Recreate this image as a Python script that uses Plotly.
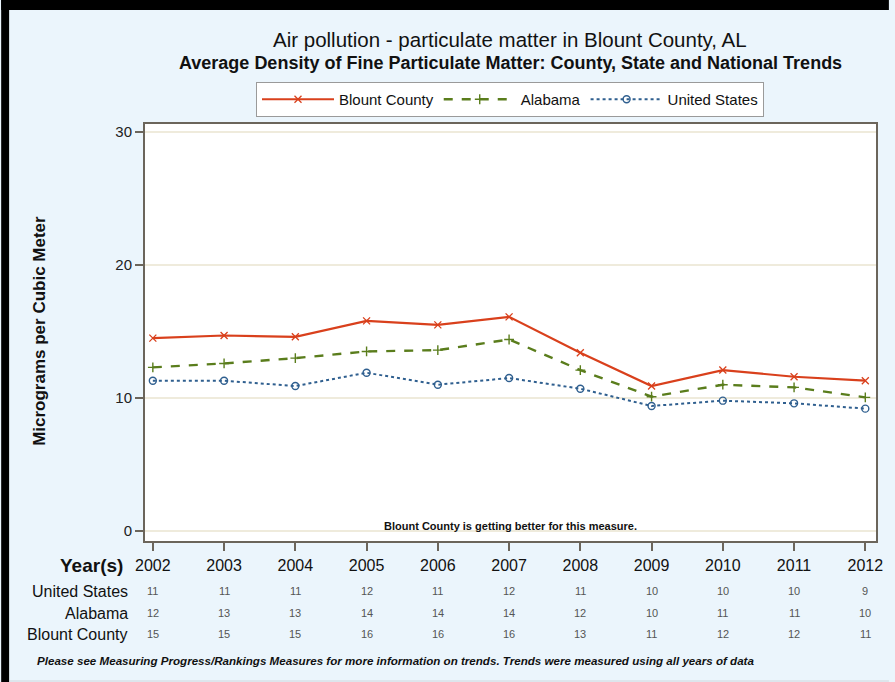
import plotly.graph_objects as go

years = [2002, 2003, 2004, 2005, 2006, 2007, 2008, 2009, 2010, 2011, 2012]
blount = [14.5, 14.7, 14.6, 15.8, 15.5, 16.1, 13.4, 10.9, 12.1, 11.6, 11.3]
alabama = [12.3, 12.6, 13.0, 13.5, 13.6, 14.4, 12.1, 10.1, 11.0, 10.8, 10.05]
united_states = [11.3, 11.3, 10.9, 11.9, 11.0, 11.5, 10.7, 9.4, 9.8, 9.6, 9.2]

# rounded values printed in the table under the chart
table_rows = ["United States", "Alabama", "Blount County"]
table_us = [11, 11, 11, 12, 11, 12, 11, 10, 10, 10, 9]
table_al = [12, 13, 13, 14, 14, 14, 12, 10, 11, 11, 10]
table_bc = [15, 15, 15, 16, 16, 16, 13, 11, 12, 12, 11]

W, H = 895, 682
L, R, T, B = 145, 13, 124, 141
FONT = "Liberation Sans, Arial, sans-serif"


def px_x(px):
    return (px - L) / (W - L - R)


def px_y(py):
    return (H - B - py) / (H - B - T)


def note(text, px, py, size, color="#111", xanchor="center", **kw):
    return dict(x=px_x(px), y=px_y(py), xref="paper", yref="paper", showarrow=False,
                xanchor=xanchor, yanchor="middle", text=text,
                font=dict(family=FONT, size=size, color=color), **kw)


fig = go.Figure()
fig.add_trace(go.Scatter(
    x=years, y=blount, name="Blount County", mode="lines+markers",
    line=dict(color="#D9401C", width=2.2),
    marker=dict(symbol="x-thin-open", size=7, color="#D9401C", line=dict(width=1.3, color="#D9401C")),
))
fig.add_trace(go.Scatter(
    x=years, y=alabama, name="Alabama", mode="lines+markers",
    line=dict(color="#5A7D1C", width=2.4, dash="dash"),
    marker=dict(symbol="cross-thin-open", size=7, color="#5A7D1C", line=dict(width=1.4, color="#5A7D1C")),
))
fig.add_trace(go.Scatter(
    x=years, y=united_states, name="United States", mode="lines+markers",
    line=dict(color="#2F5F8F", width=2, dash="dot"),
    marker=dict(symbol="circle-open", size=7, color="#2F5F8F", line=dict(width=1.4, color="#2F5F8F")),
))

ann = [
    note("Air pollution - particulate matter in Blount County, AL", 513, 40, 20.5),
    note("<b>Average Density of Fine Particulate Matter: County, State and National Trends</b>", 513, 63, 18),
    note("<b>Micrograms per Cubic Meter</b>", 38, 331, 17, textangle=-90),
    note("<b>Blount County is getting better for this measure.</b>", 513, 526, 11),
    note("<b>Year(s)</b>", 125, 565, 19, xanchor="right"),
    note("<b><i>Please see Measuring Progress/Rankings Measures for more information on trends. "
         "Trends were measured using all years of data</i></b>", 34, 660, 11.6, xanchor="left"),
]

row_y = [591, 613, 634]
for label, vals, py in zip(table_rows, [table_us, table_al, table_bc], row_y):
    ann.append(note(label, 130, py, 16, xanchor="right"))
    for yr, v in zip(years, vals):
        ann.append(dict(x=yr, y=px_y(py), xref="x", yref="paper", showarrow=False, yanchor="middle",
                        text=str(v), font=dict(family=FONT, size=11, color="#555")))

shapes = [
    # black frame bits on top and left edge
    dict(type="rect", xref="paper", yref="paper", x0=px_x(0), x1=px_x(W), y0=px_y(0), y1=px_y(10),
         fillcolor="black", line=dict(width=0), layer="above"),
    dict(type="rect", xref="paper", yref="paper", x0=px_x(0), x1=px_x(8), y0=px_y(0), y1=px_y(H),
         fillcolor="black", line=dict(width=0), layer="above"),
    dict(type="line", xref="paper", yref="paper", x0=px_x(8), x1=px_x(W), y0=px_y(681), y1=px_y(681),
         line=dict(color="#cfd6dc", width=1)),
]

fig.update_layout(
    width=W, height=H, autosize=False,
    margin=dict(l=L, r=R, t=T, b=B),
    paper_bgcolor="#EBF5FC", plot_bgcolor="white",
    font=dict(family=FONT, color="#111"),
    showlegend=True,
    legend=dict(orientation="h", x=px_x(513), xanchor="center", y=px_y(82), yanchor="top",
                bgcolor="white", bordercolor="#9a9a9a", borderwidth=1,
                font=dict(family=FONT, size=15, color="#111"), itemwidth=72,
                tracegroupgap=0),
    xaxis=dict(
        range=[2001.89, 2012.15], tickmode="array", tickvals=years, ticktext=[str(y) for y in years],
        showgrid=False, zeroline=False, showline=True, mirror=True, linecolor="#6b655b", linewidth=2,
        ticks="outside", ticklen=8, tickwidth=2, tickcolor="#6b655b",
        tickfont=dict(family=FONT, size=16, color="#111"), ticklabelstandoff=1,
    ),
    yaxis=dict(
        range=[-0.75, 30.6], tickvals=[0, 10, 20, 30],
        showgrid=True, gridcolor="#EFEBDC", gridwidth=1.5, zeroline=False,
        showline=True, mirror=True, linecolor="#6b655b", linewidth=2,
        ticks="outside", ticklen=8, tickwidth=2, tickcolor="#6b655b",
        tickfont=dict(family=FONT, size=15, color="#222"),
    ),
    annotations=ann, shapes=shapes,
)

# the page body has a default 8px margin; drop it so the figure sits at the window corner
fig.write_html("out.html", config={"displayModeBar": False},
               post_script="document.body.style.margin='0';")
